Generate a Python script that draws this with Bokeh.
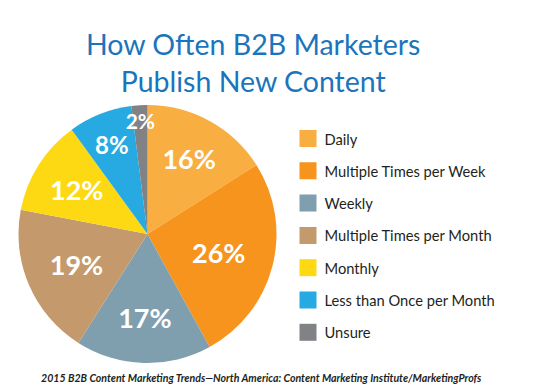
import math
from bokeh.plotting import figure
from bokeh.models import Range1d, ColumnDataSource
from bokeh.core.properties import value
from bokeh.embed import file_html
from bokeh.resources import INLINE

# ---- data ----
categories = ["Daily", "Multiple Times per Week", "Weekly", "Multiple Times per Month",
              "Monthly", "Less than Once per Month", "Unsure"]
percents = [16, 26, 17, 19, 12, 8, 2]
colors = ["#F9AE41", "#F7941D", "#7F9FAF", "#C49A6C", "#FDD914", "#27AAE1", "#808285"]
title_lines = ["How Often B2B Marketers", "Publish New Content"]
source_text = "2015 B2B Content Marketing Trends\u2014North America: Content Marketing Institute/MarketingProfs"

# ---- layout (style) ----
W, H = 546, 390
def fy(page_y):
    return H - page_y
def fx(page_x):
    return page_x

cx, cy, R = fx(147), fy(233.5), 129
label_r = [0.67, 0.57, 0.65, 0.60, 0.65, 0.75, 0.88]
label_sizes = ["27px", "27px", "27px", "27px", "27px", "24px", "21px"]

p = figure(width=W, height=H, x_range=Range1d(0, W), y_range=Range1d(0, H),
           output_backend="svg", toolbar_location=None, min_border=0)
p.axis.visible = False
p.grid.visible = False
p.outline_line_color = None
p.background_fill_color = "white"

# wedges, clockwise from top
total = sum(percents)
starts, ends, lx, ly, labels = [], [], [], [], []
acc = 0
for i, v in enumerate(percents):
    a0 = math.pi / 2 - 2 * math.pi * acc / total
    a1 = math.pi / 2 - 2 * math.pi * (acc + v) / total
    starts.append(a0)
    ends.append(a1)
    mid = (a0 + a1) / 2
    lx.append(cx + R * label_r[i] * math.cos(mid))
    ly.append(cy + R * label_r[i] * math.sin(mid))
    labels.append(f"{v}%")
    acc += v

p.wedge(x=cx, y=cy, radius=R, start_angle=starts, end_angle=ends, direction="clock",
        fill_color=colors, line_color=None)

lsrc = ColumnDataSource(dict(x=lx, y=ly, text=labels, size=label_sizes))
p.text(x="x", y="y", text="text", source=lsrc, text_color="white", text_font=value("Lato"),
       text_font_style="bold", text_font_size="size", text_align="center",
       text_baseline="middle")

# title
p.text(x=[fx(253), fx(253)], y=[fy(43), fy(80)], text=title_lines, text_color="#1B75BC",
       text_font=value("Lato"), text_font_size="28.5px", text_align="center",
       text_baseline="alphabetic")

# legend
row0, step = 138, 32.3
sy = [fy(row0 + step * i) for i in range(len(categories))]
p.rect(x=[fx(307.5)] * len(categories), y=sy, width=17, height=17,
       fill_color=colors, line_color=None)
p.text(x=[fx(324)] * len(categories), y=sy, text=categories, text_color="#231F20",
       text_font=value("Lato"), text_font_size="14.7px", text_align="left",
       text_baseline="middle")

# source
p.text(x=[fx(261)], y=[fy(377)], text=[source_text], text_color="#231F20",
       text_font=value("Lato"), text_font_style="bold italic", text_font_size="10.6px",
       text_align="center", text_baseline="middle")

open("out.html", "w").write(file_html(p, INLINE))
